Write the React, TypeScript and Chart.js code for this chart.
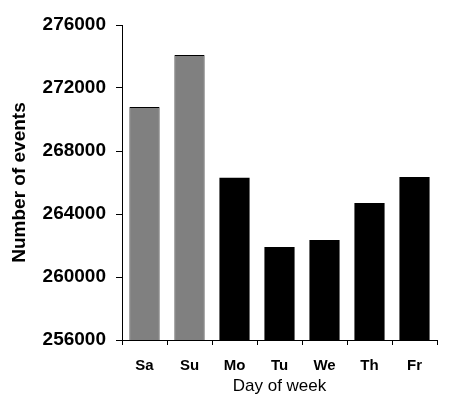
import React, { useEffect, useRef } from "react";
import { Chart, registerables } from "chart.js";

Chart.register(...registerables);

const days = ["Sa", "Su", "Mo", "Tu", "We", "Th", "Fr"];
const events = [270800, 274100, 266300, 261900, 262350, 264700, 266350];
const barColors = ["#808080", "#808080", "#000000", "#000000", "#000000", "#000000", "#000000"];
const barBorderWidths = [1, 1, 0, 0, 0, 0, 0];
const yMin = 256000;
const yMax = 276000;
const yStep = 4000;

const FONT = "'Liberation Sans', Arial, sans-serif";

export default function App() {
  const ref = useRef<HTMLCanvasElement | null>(null);

  useEffect(() => {
    if (!ref.current) return;
    const chart = new Chart(ref.current, {
      type: "bar",
      data: {
        labels: days,
        datasets: [
          {
            data: events,
            backgroundColor: barColors,
            borderColor: "#000000",
            borderWidth: barBorderWidths,
            borderSkipped: false,
            categoryPercentage: 1,
            barPercentage: 0.67,
          },
        ],
      },
      options: {
        responsive: false,
        animation: false,
        devicePixelRatio: 1,
        layout: { padding: { left: 0, right: 17, top: 25, bottom: 0 } },
        plugins: { legend: { display: false }, tooltip: { enabled: false } },
        scales: {
          x: {
            grid: {
              display: true,
              drawOnChartArea: false,
              drawTicks: true,
              tickLength: 5,
              color: "#000000",
              lineWidth: 1,
            },
            border: { display: true, color: "#000000", width: 1 },
            ticks: {
              color: "#000000",
              padding: 12,
              font: { family: FONT, size: 15, weight: "bold" },
            },
            title: {
              display: true,
              text: "Day of week",
              color: "#000000",
              padding: { top: 0, bottom: 4 },
              font: { family: FONT, size: 17, weight: "normal" },
            },
            afterFit: (s: any) => {
              s.height = 61;
            },
          },
          y: {
            min: yMin,
            max: yMax,
            grid: {
              display: true,
              drawOnChartArea: false,
              drawTicks: true,
              tickLength: 6,
              color: "#000000",
              lineWidth: 1,
            },
            border: { display: true, color: "#000000", width: 1 },
            ticks: {
              stepSize: yStep,
              color: "#000000",
              padding: 10,
              font: { family: FONT, size: 19, weight: "bold" },
              callback: (v: any) => String(v),
            },
            title: {
              display: true,
              text: "Number of events",
              color: "#000000",
              padding: { top: 8, bottom: 0 },
              font: { family: FONT, size: 19, weight: "bold" },
            },
            afterFit: (s: any) => {
              s.width = 122;
            },
          },
        },
      },
    });
    return () => chart.destroy();
  }, []);

  return (
    <div style={{ position: "fixed", left: 0, top: 0, width: 454, height: 401, background: "#ffffff" }}>
      <canvas ref={ref} width={454} height={401} style={{ display: "block" }} />
    </div>
  );
}
